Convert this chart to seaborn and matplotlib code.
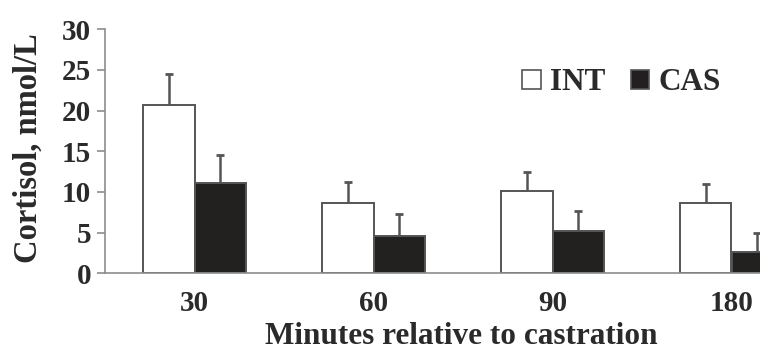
import matplotlib
matplotlib.use("Agg")
import matplotlib.pyplot as plt
from matplotlib.patches import Patch
import seaborn as sns
import pandas as pd
import numpy as np

# ---- data ----
times = ["30", "60", "90", "180"]
groups = ["INT", "CAS"]
int_mean = [20.7, 8.7, 10.1, 8.7]
int_err = [3.8, 2.5, 2.4, 2.3]
cas_mean = [11.1, 4.6, 5.2, 2.6]
cas_err = [3.4, 2.7, 2.5, 2.4]
y_ticks = [0, 5, 10, 15, 20, 25, 30]

df = pd.DataFrame({
    "time": times * 2,
    "group": ["INT"] * len(times) + ["CAS"] * len(times),
    "value": int_mean + cas_mean,
})
errs = {"INT": int_err, "CAS": cas_err}

sns.set_theme(style="white")
plt.rcParams["font.family"] = ["Liberation Serif", "DejaVu Serif"]
plt.rcParams["font.weight"] = "bold"

text_c = "#2a2a2a"
axis_c = "#8c8c8c"
edge_c = "#555555"
fill = {"INT": "#ffffff", "CAS": "#231f20"}

fig = plt.figure(figsize=(7.6, 3.52), dpi=100)
ax = fig.add_axes([105 / 760, 1 - 273.3 / 352, 716 / 760, 244 / 352])

sns.barplot(data=df, x="time", y="value", hue="group", order=times,
            hue_order=groups, palette=fill, width=0.58, errorbar=None,
            edgecolor=edge_c, linewidth=1.4, legend=False, ax=ax, zorder=2)

for cont, g in zip(ax.containers, groups):
    xs = [b.get_x() + b.get_width() / 2 for b in cont]
    hs = [b.get_height() for b in cont]
    e = errs[g]
    ax.errorbar(xs, hs, yerr=[np.zeros(len(e)), e], fmt="none",
                ecolor="#555555", elinewidth=1.8, capsize=3.0, capthick=2.0,
                zorder=1)

ax.set_xlim(-0.5, 3.5)
ax.set_ylim(0, 30)
ax.set_yticks(y_ticks)
ax.set_yticklabels([str(t) for t in y_ticks])

sns.despine(ax=ax)
for s in ["left", "bottom"]:
    ax.spines[s].set_color(axis_c)
    ax.spines[s].set_linewidth(1.2)

ax.set_xticks(range(len(times)))
ax.set_xticks([-0.5, 0.5, 1.5, 2.5, 3.5], minor=True)
ax.tick_params(axis="x", which="major", length=0, pad=12,
               labelsize=21, labelcolor=text_c)
ax.tick_params(axis="x", which="minor", length=6, width=1.2,
               color=axis_c, direction="out")
ax.tick_params(axis="y", length=6, width=1.2, color=axis_c, pad=4,
               labelsize=21, labelcolor=text_c, left=True)
for lab in ax.get_xticklabels() + ax.get_yticklabels():
    lab.set_fontweight("bold")

ax.set_xlabel("Minutes relative to castration", fontsize=22.5,
              fontweight="bold", color=text_c, va="baseline")
ax.xaxis.set_label_coords(0.497, (273.3 - 344) / 244)
ax.set_ylabel("Cortisol, nmol/L", fontsize=23.5, fontweight="bold",
              color=text_c, va="center")
ax.yaxis.set_label_coords((28 - 105) / 716, (273.3 - 148) / 244)

handles = [Patch(facecolor=fill[g], edgecolor=edge_c, linewidth=1.2, label=g)
           for g in groups]
leg = fig.legend(handles=handles, loc="center left",
                 bbox_to_anchor=(522 / 760, 1 - 83 / 352), ncol=2,
                 frameon=False, fontsize=22.5, handlelength=0.6,
                 handleheight=0.6, handletextpad=0.3, columnspacing=0.8,
                 borderpad=0, borderaxespad=0)
for t in leg.get_texts():
    t.set_color(text_c)
    t.set_fontweight("bold")

fig.savefig("out.png", dpi=100)
